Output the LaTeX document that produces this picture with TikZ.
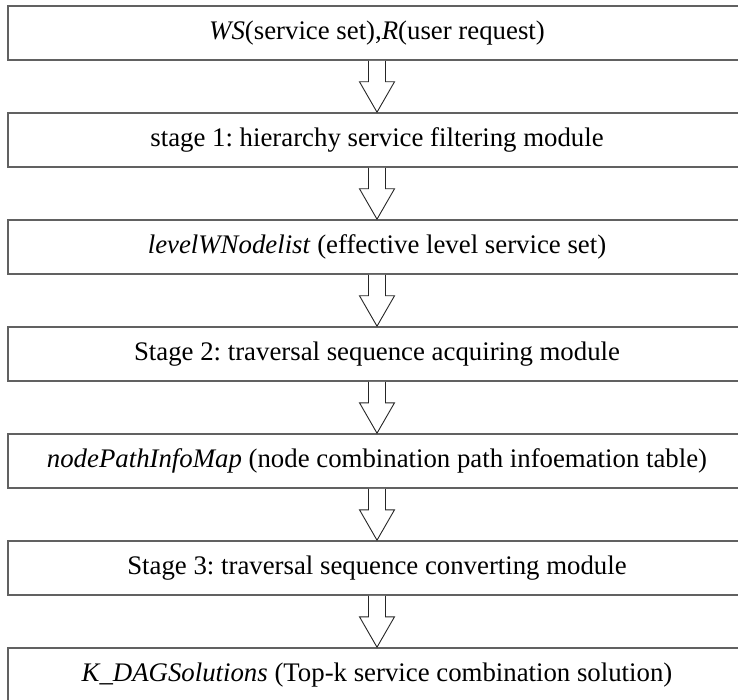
\documentclass[tikz,border=0pt]{standalone}
\usepackage{fontspec}
\setmainfont{Liberation Serif}
\usetikzlibrary{positioning,calc}
\frenchspacing

\begin{document}
\begin{tikzpicture}[
    x=1pt, y=1pt,
    box/.style={rectangle, draw=black!62, line width=1.6pt, minimum width=738pt, minimum height=54pt, inner sep=0pt, align=center, font=\fontsize{26.8}{30}\selectfont},
    hollow/.style={draw=black!85, line width=0.9pt, fill=white, line join=miter}
]
\useasboundingbox (0,0) rectangle (738,-700);
\clip (0,0) rectangle (738,-700);

% Boxes from top to bottom
\node[box] (input) at (377,-33) {\textit{WS}(service set),\textit{R}(user request)};
\node[box] (stageone) at (377,-140) {stage 1: hierarchy service filtering module};
\node[box] (levelset) at (377,-247) {\textit{levelWNodelist} (effective level service set)};
\node[box] (stagetwo) at (377,-354) {Stage 2: traversal sequence acquiring module};
\node[box] (pathmap) at (377,-461) {\textit{nodePathInfoMap} (node combination path infoemation table)};
\node[box] (stagethree) at (377,-568) {Stage 3: traversal sequence converting module};
\node[box] (solutions) at (377,-675) {\textit{K\_DAGSolutions} (Top-k service combination solution)};

% Hollow block arrows
\foreach \a/\b in {input/stageone, stageone/levelset, levelset/stagetwo, stagetwo/pathmap, pathmap/stagethree, stagethree/solutions}
    \draw[hollow] ([xshift=-8.5pt]\a.south) -- ([xshift=-8.5pt,yshift=-21pt]\a.south)
        -- ([xshift=-17.5pt,yshift=-21pt]\a.south) -- (\b.north)
        -- ([xshift=17.5pt,yshift=-21pt]\a.south) -- ([xshift=8.5pt,yshift=-21pt]\a.south)
        -- ([xshift=8.5pt]\a.south);

\end{tikzpicture}
\end{document}
